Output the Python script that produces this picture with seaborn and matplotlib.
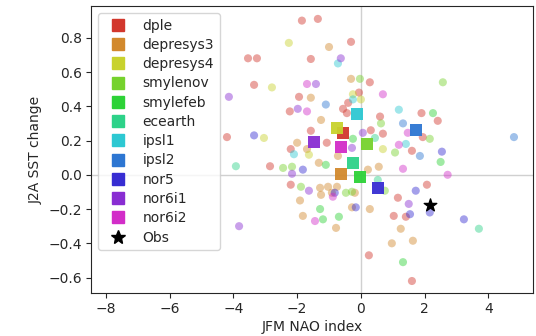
import numpy as np
import pandas as pd
import matplotlib
matplotlib.use("Agg")
import matplotlib.pyplot as plt
import seaborn as sns
from matplotlib.lines import Line2D

# models in legend order
models = ['dple', 'depresys3', 'depresys4', 'smylenov', 'smylefeb', 'ecearth',
          'ipsl1', 'ipsl2', 'nor5', 'nor6i1', 'nor6i2']

# ensemble members (JFM NAO index, J2A SST change)
dple_x = [-3.54, -3.26, -3.35, -4.2, -2.85, -1.85, -1.35, -1.57, -1.94, -2.23, -0.56,
          -1.57, -1.07, -2.2, -0.31, 0.28, -0.06, -0.4, -0.44, 0.6, 1.9, 0.31, 0.69,
          1.6, 2.41, 1.94, -2.2, 1.16, 2.07, 1.03, 1.41, 0.25, 1.6]
dple_y = [0.68, 0.68, 0.525, 0.22, 0.05, 0.90, 0.91, 0.676, 0.455, 0.37, 0.385,
          0.257, 0.187, 0.15, 0.776, 0.54, 0.48, 0.42, 0.36, 0.34, 0.36, 0.26, 0.24,
          0.14, 0.315, 0.22, -0.058, -0.134, -0.058, -0.24, -0.245, -0.47, -0.62]

depresys3_x = [-1.0, -0.31, -1.57, -1.25, -2.0, -1.69, -0.72, -1.32, 0.22, 0.56, -1.28,
               -1.03, -0.75, -1.25, -0.91, -0.19, -1.91, -0.28, 0.28, -1.82, -0.78,
               1.25, 1.63, 0.97]
depresys3_y = [0.746, 0.56, 0.45, 0.32, 0.187, 0.15, 0.11, 0.07, 0.03, 0.047, -0.076,
               -0.07, -0.07, -0.117, -0.105, -0.105, -0.15, -0.19, -0.2, -0.24, -0.31,
               -0.315, -0.385, -0.4]

depresys4_x = [-2.79, -3.04, -2.26, -0.25, 0.0, 0.69, -1.63]
depresys4_y = [0.51, 0.215, 0.77, 0.47, 0.44, 0.15, 0.117]

smylenov_x = [-0.03, 0.63, 1.07, 2.16, 2.57, -2.44, -2.16, -1.88, -0.47, -0.28, 0.75]
smylenov_y = [0.56, 0.30, 0.13, 0.21, 0.54, 0.04, 0.047, -0.07, -0.105, -0.099, -0.093]

smylefeb_x = [-0.25, 2.26, 2.5, -1.1, -1.28, -1.19, -0.69, 1.32]
smylefeb_y = [0.21, 0.36, 0.075, 0.058, -0.2, -0.26, -0.245, -0.51]

ecearth_x = [-3.92, 3.7, 0.44, 0.53]
ecearth_y = [0.05, -0.315, 0.215, -0.03]

ipsl1_x = [-0.72, -0.25, 1.19, 1.41, -2.1]
ipsl1_y = [0.65, 0.44, 0.38, 0.18, 0.12]

ipsl2_x = [-1.1, 1.32, 1.85, 4.8]
ipsl2_y = [0.41, 0.30, 0.11, 0.22]

nor5_x = [-3.35, -1.82, 2.54, -0.82, -0.16, 1.72, 1.54, 2.16, 3.23]
nor5_y = [0.23, 0.03, 0.135, -0.105, -0.19, -0.093, -0.23, -0.22, -0.26]

nor6i1_x = [-4.14, -0.63, -1.41, -1.98, 0.06, -0.28, -2.16, -1.63, 1.5, -3.82]
nor6i1_y = [0.455, 0.68, 0.53, 0.385, 0.245, 0.157, 0.006, -0.093, -0.17, -0.30]

nor6i2_x = [-1.69, -1.69, 0.69, 1.47, 1.19, 1.32, 2.72, -0.88, -1.44]
nor6i2_y = [0.53, 0.37, 0.47, 0.245, 0.175, 0.035, 0.0, -0.128, -0.27]

# ensemble means (squares)
mean_x = [-0.56, -0.63, -0.75, 0.19, -0.03, -0.25, -0.12, 1.72, 0.53, -1.47, -0.63]
mean_y = [0.245, 0.006, 0.274, 0.18, -0.012, 0.07, 0.355, 0.26, -0.076, 0.19, 0.163]

# observations
obs_x = [2.16]
obs_y = [-0.175]

members = {
    'dple': (dple_x, dple_y),
    'depresys3': (depresys3_x, depresys3_y),
    'depresys4': (depresys4_x, depresys4_y),
    'smylenov': (smylenov_x, smylenov_y),
    'smylefeb': (smylefeb_x, smylefeb_y),
    'ecearth': (ecearth_x, ecearth_y),
    'ipsl1': (ipsl1_x, ipsl1_y),
    'ipsl2': (ipsl2_x, ipsl2_y),
    'nor5': (nor5_x, nor5_y),
    'nor6i1': (nor6i1_x, nor6i1_y),
    'nor6i2': (nor6i2_x, nor6i2_y),
}

rows = []
for m, (xs, ys) in members.items():
    for xv, yv in zip(xs, ys):
        rows.append({'model': m, 'nao': xv, 'sst': yv})
df = pd.DataFrame(rows)
df_mean = pd.DataFrame({'model': models, 'nao': mean_x, 'sst': mean_y})

sns.set_style("ticks")
pal = dict(zip(models, sns.hls_palette(12, l=0.5, s=0.65)[:11]))

fig = plt.figure(figsize=(5.36, 3.36), dpi=100)
ax = fig.add_axes([0.170, 0.128, 0.824, 0.854])

ax.axhline(0, color='#d0d0d0', lw=1, zorder=0)
ax.axvline(0, color='#d0d0d0', lw=1, zorder=0)

sns.scatterplot(data=df, x='nao', y='sst', hue='model', palette=pal, s=34,
                alpha=0.45, linewidth=0, legend=False, ax=ax)
sns.scatterplot(data=df_mean, x='nao', y='sst', hue='model', palette=pal, s=80,
                marker='s', linewidth=0, alpha=0.95, legend=False, ax=ax)
ax.scatter(obs_x, obs_y, marker='*', s=90, color='black', zorder=5)

handles = [Line2D([], [], marker='s', ls='', color=pal[m], markersize=8, label=m)
           for m in models]
handles.append(Line2D([], [], marker='*', ls='', color='black', markersize=10, label='Obs'))
ax.legend(handles=handles, loc='upper left', fontsize=10, labelspacing=0.38,
          handletextpad=0.8)

ax.set_xlim(-8.46, 5.39)
ax.set_ylim(-0.69, 0.985)
ax.set_xticks([-8, -6, -4, -2, 0, 2, 4])
ax.set_yticks([-0.6, -0.4, -0.2, 0.0, 0.2, 0.4, 0.6, 0.8])
ax.set_xlabel('JFM NAO index', fontsize=10, labelpad=3)
ax.set_ylabel('J2A SST change', fontsize=10)
ax.tick_params(labelsize=10, pad=3)

fig.savefig('out.png', dpi=100)
